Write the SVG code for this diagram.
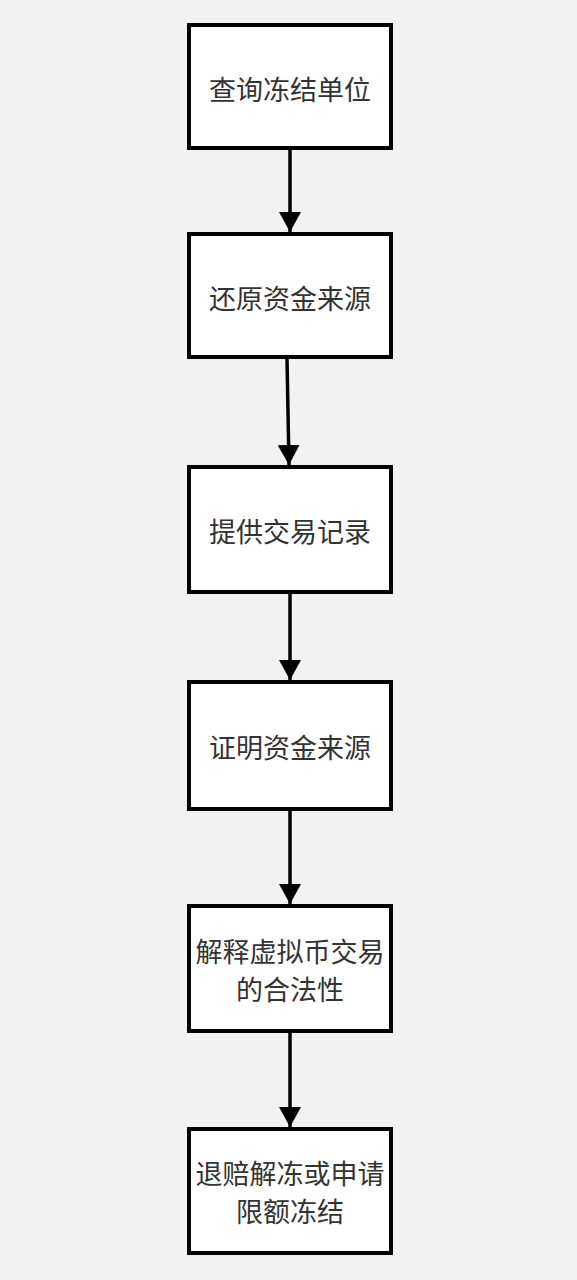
<svg xmlns="http://www.w3.org/2000/svg" width="577" height="1280" viewBox="0 0 577 1280">
<style>
.box{fill:#ffffff;stroke:#000000;stroke-width:4}
.lbl{font-family:"Noto Sans CJK SC","Microsoft YaHei",sans-serif;font-size:27px;fill:#333333;text-anchor:middle;dominant-baseline:central}
.edge{stroke:#000000;stroke-width:3.5;fill:none;marker-end:url(#arr)}
</style>
<defs>
<marker id="arr" viewBox="0 0 20 22" refX="20" refY="11" markerWidth="20" markerHeight="22" markerUnits="userSpaceOnUse" orient="auto">
<path d="M0,0 L20,11 L0,22 Z" fill="#000000"/>
</marker>
</defs>
<rect width="577" height="1280" fill="#f2f2f2"/>
<g id="connectors">
<line class="edge" x1="290" y1="150" x2="290" y2="232"/>
<line class="edge" x1="287" y1="359" x2="289" y2="465"/>
<line class="edge" x1="290" y1="594" x2="290" y2="680"/>
<line class="edge" x1="290" y1="811" x2="290" y2="904"/>
<line class="edge" x1="290" y1="1033" x2="290" y2="1127"/>
</g>
<g id="n1"><rect class="box" x="189" y="25" width="202" height="123"/><text class="lbl" x="290" y="88">查询冻结单位</text></g>
<g id="n2"><rect class="box" x="189" y="234" width="202" height="123"/><text class="lbl" x="290" y="297">还原资金来源</text></g>
<g id="n3"><rect class="box" x="189" y="467" width="202" height="125"/><text class="lbl" x="290" y="530">提供交易记录</text></g>
<g id="n4"><rect class="box" x="189" y="682" width="202" height="127"/><text class="lbl" x="290" y="746">证明资金来源</text></g>
<g id="n5"><rect class="box" x="189" y="906" width="202" height="125"/><text class="lbl" x="290" y="950">解释虚拟币交易</text><text class="lbl" x="290" y="988">的合法性</text></g>
<g id="n6"><rect class="box" x="189" y="1129" width="202" height="124"/><text class="lbl" x="290" y="1172">退赔解冻或申请</text><text class="lbl" x="290" y="1210">限额冻结</text></g>
</svg>
